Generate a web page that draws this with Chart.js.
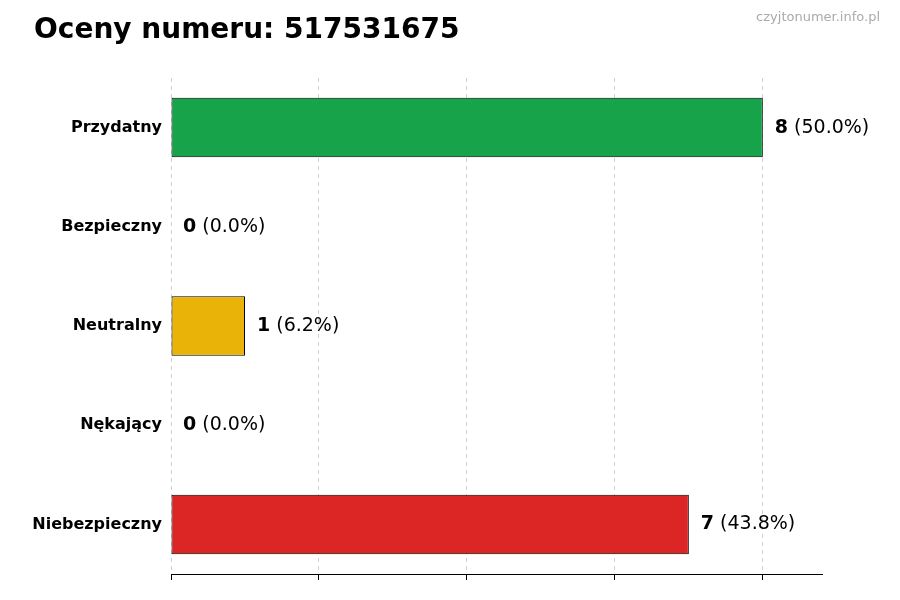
<!DOCTYPE html>
<html><head><meta charset="utf-8">
<script src="https://cdn.jsdelivr.net/npm/chart.js@4/dist/chart.umd.min.js"></script>
<style>html,body{margin:0;padding:0;background:#fff}#w{position:relative;width:900px;height:600px}</style>
</head><body><div id="w"><canvas id="c" width="900" height="600"></canvas></div>
<script>
const categories = ["Przydatny","Bezpieczny","Neutralny","Nękający","Niebezpieczny"];
const counts = [8,0,1,0,7];
const percents = ["50.0%","0.0%","6.2%","0.0%","43.8%"];
const colors = ["#16a34a","#16a34a","#eab308","#dc2626","#dc2626"];
const xTicks = [0,2,4,6,8];
const FONT = "'DejaVu Sans', sans-serif";

const overlay = {
  id:'overlay',
  afterDatasetsDraw(chart){
    const ctx = chart.ctx, meta = chart.getDatasetMeta(0);
    ctx.save();
    ctx.textBaseline='middle';
    meta.data.forEach((bar,i)=>{
      const x = bar.x + 12, y = bar.y;
      ctx.font = "bold 19px "+FONT; ctx.fillStyle="#000"; ctx.textAlign='left';
      const n = String(counts[i]);
      ctx.fillText(n,x,y);
      const w = ctx.measureText(n).width;
      ctx.font = "19px "+FONT;
      ctx.fillText(" ("+percents[i]+")",x+w,y);
    });
    ctx.font="bold 28px "+FONT; ctx.fillText("Oceny numeru: 517531675",34,31);
    ctx.font="13px "+FONT; ctx.fillStyle="#aaa"; ctx.textAlign='right';
    ctx.fillText("czyjtonumer.info.pl",880,18);
    ctx.restore();
  }
};

new Chart(document.getElementById('c'),{
  type:'bar',
  data:{labels:categories,datasets:[{data:counts,backgroundColor:colors,borderColor:"#000",borderWidth:1,borderSkipped:false,barPercentage:0.6,categoryPercentage:1}]},
  options:{
    indexAxis:'y',responsive:false,animation:false,
    layout:{padding:{top:78,right:78,bottom:20,left:0}},
    plugins:{legend:{display:false},tooltip:{enabled:false}},
    scales:{
      x:{min:0,max:8.8,
        afterBuildTicks(a){a.ticks=xTicks.map(v=>({value:v}));},
        ticks:{display:false},
        grid:{color:"#d0d0d0",drawTicks:true,tickLength:6,tickColor:"#000",tickBorderDash:[0]},
        border:{display:true,color:"#000",dash:[4,4]}
      },
      y:{afterFit(s){s.width=171;},
        ticks:{color:"#000",font:{family:FONT,size:16,weight:'bold'},padding:4},
        grid:{display:false,drawOnChartArea:false,drawTicks:true,tickLength:5,tickColor:"#000"},
        border:{display:false}}
    }
  },
  plugins:[overlay]
});
</script></body></html>
